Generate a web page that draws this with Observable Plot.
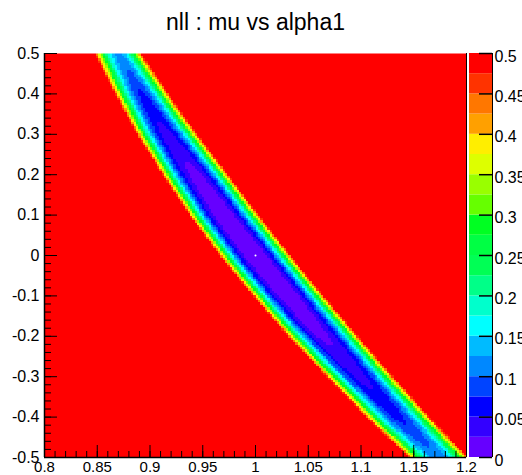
<!DOCTYPE html>
<html>
<head>
<meta charset="utf-8">
<script src="https://cdn.jsdelivr.net/npm/d3@7"></script>
<script src="https://cdn.jsdelivr.net/npm/@observablehq/plot@0.6"></script>
<style>
  html, body { margin: 0; padding: 0; background: #fff; overflow: hidden; }
  #wrap { position: relative; width: 522px; height: 475px; }
  #wrap > div { position: absolute; top: 0; }
  #main { left: 0; }
  #bar { left: 466px; }
</style>
</head>
<body>
<div id="wrap"><div id="main"></div><div id="bar"></div></div>
<script>
// ---- data ----
const title = "nll : mu vs alpha1";
const xDomain = [0.8, 1.2];          // alpha1
const yDomain = [-0.5, 0.5];         // mu
const xTicks = [0.8, 0.85, 0.9, 0.95, 1, 1.05, 1.1, 1.15, 1.2];
const yTicks = [-0.5, -0.4, -0.3, -0.2, -0.1, 0, 0.1, 0.2, 0.3, 0.4, 0.5];
const zTicks = [0, 0.05, 0.1, 0.15, 0.2, 0.25, 0.3, 0.35, 0.4, 0.45, 0.5];
const zLabels = ["0", "0.05", "0.1", "0.15", "0.2", "0.25", "0.3", "0.35", "0.4", "0.45", "0.5"];
const levelEdges = [0, 0.025, 0.05, 0.075, 0.1, 0.125, 0.15, 0.175, 0.2, 0.225, 0.25,
                    0.275, 0.3, 0.325, 0.35, 0.375, 0.4, 0.425, 0.45, 0.475, 0.5];
const palette = ["#6600ff", "#3300ff", "#0000ff", "#0044ff", "#0088ff", "#00bbff", "#00ffff",
                 "#00ffcc", "#00ff88", "#00ff55", "#00ff44", "#00ff22", "#66ff00", "#99ff00",
                 "#ddff00", "#ffee00", "#ffa000", "#ff7700", "#ff3300", "#ff0000"];
// valley of the nll surface, read row by row (mu)
const muRows      = [0.5,    0.4,    0.3,    0.2,    0.1,    0,      -0.1,   -0.2,   -0.3,   -0.4,   -0.5];
const valleyAlpha = [0.8697, 0.892,  0.916,  0.943,  0.970,  0.9995, 1.031,  1.064,  1.099,  1.135,  1.1735];
const valleyMin   = [0.12,   0.07,   0.04,   0.018,  0.006,  0,      0.005,  0.02,   0.042,  0.068,  0.11];
const halfWidth   = [0.0225, 0.026,  0.029,  0.0315, 0.0335, 0.034,  0.034,  0.0335, 0.032,  0.0305, 0.029];
const steepness   = [2.0,    2.1,    2.3,    2.5,    2.6,    2.6,    2.6,    2.5,    2.4,    2.3,    2.2];
const bestFit = [{alpha: 1.0, mu: 0.0}];

// ---- helpers ----
function rowValue(arr, mu) {
  for (let i = 0; i < muRows.length - 1; i++) {
    const a = muRows[i], b = muRows[i + 1];
    if (mu <= a && mu >= b) {
      const t = (a - mu) / (a - b);
      return arr[i] + t * (arr[i + 1] - arr[i]);
    }
  }
  return mu > muRows[0] ? arr[0] : arr[arr.length - 1];
}
function nll(alpha, mu) {
  const c = rowValue(valleyAlpha, mu);
  const m = rowValue(valleyMin, mu);
  const w = rowValue(halfWidth, mu);
  const p = rowValue(steepness, mu);
  const v = m + (0.5 - m) * Math.pow(Math.abs(alpha - c) / w, p);
  return Math.min(v, 0.6);
}
const fmt = d => String(d);
const colorScale = {type: "threshold", domain: levelEdges.slice(1, -1), range: palette};

const W = 522, H = 475;
const mT = 53, mB = 18, mL = 44, mR = 56;
const frameW = W - mL - mR, frameH = H - mT - mB;
const font = "'Liberation Sans', Arial, Helvetica, sans-serif";

const yMinor = d3.range(-0.5, 0.5001, 0.02).map(d => +d.toFixed(2));
const xMinor = d3.range(0.8, 1.2001, 0.01).map(d => +d.toFixed(2));

const main = Plot.plot({
  width: W, height: H,
  marginTop: mT, marginBottom: mB, marginLeft: mL, marginRight: mR,
  style: {fontFamily: font, fontSize: "16px", background: "transparent", color: "black"},
  x: {domain: xDomain, label: null},
  y: {domain: yDomain, label: null},
  color: colorScale,
  marks: [
    Plot.raster({x1: xDomain[0], x2: xDomain[1], y1: yDomain[0], y2: yDomain[1],
                 fill: nll, width: 180, height: 172, imageRendering: "pixelated"}),
    Plot.dot(bestFit, {x: "alpha", y: "mu", r: 1, fill: "white", stroke: null}),
    Plot.tickY(yMinor, {y: d => d, insetRight: frameW - 7, stroke: "black"}),
    Plot.tickY(yTicks, {y: d => d, insetRight: frameW - 13, stroke: "black"}),
    Plot.tickX(xMinor, {x: d => d, insetTop: frameH - 6, stroke: "black"}),
    Plot.tickX(xTicks, {x: d => d, insetTop: frameH - 12, stroke: "black"}),
    Plot.ruleX([xDomain[0]], {stroke: "black", strokeWidth: 1.5}),
    Plot.ruleX([xDomain[1]], {stroke: "black", strokeWidth: 1}),
    Plot.ruleY([yDomain[0]], {stroke: "black", strokeWidth: 1.5}),
    Plot.axisY({ticks: yTicks, tickSize: 0, tickPadding: 5, tickFormat: fmt, fontSize: 16}),
    Plot.axisX({ticks: xTicks, tickSize: 0, tickPadding: 4, tickFormat: fmt, fontSize: 15}),
    Plot.text([title], {frameAnchor: "top", dy: -24, fontSize: 23, fill: "black", lineAnchor: "bottom", text: d => d})
  ]
});
document.getElementById("main").appendChild(main);

// colour bar
const bands = levelEdges.slice(0, -1).map((lo, i) => ({lo, hi: levelEdges[i + 1]}));
const bar = Plot.plot({
  width: 56, height: H,
  marginTop: mT, marginBottom: mB, marginLeft: 3, marginRight: 30,
  style: {fontFamily: font, fontSize: "16px", background: "transparent", color: "black", overflow: "hidden"},
  x: {domain: [0, 1], axis: null},
  y: {domain: [0, 0.5], label: null, axis: null},
  color: colorScale,
  marks: [
    Plot.rect(bands, {x1: 0, x2: 1, y1: "lo", y2: "hi", fill: d => (d.lo + d.hi) / 2}),
    Plot.tickY(zTicks, {y: d => d, insetLeft: 10, stroke: "black", strokeWidth: 1.5}),
    Plot.ruleX([1], {stroke: "black", strokeWidth: 1}),
    Plot.axisY({anchor: "right", ticks: zTicks, tickSize: 0, tickPadding: 2,
                tickFormat: (d) => zLabels[zTicks.indexOf(d)], fontSize: 16, dy: 3})
  ]
});
document.getElementById("bar").appendChild(bar);
</script>
</body>
</html>
